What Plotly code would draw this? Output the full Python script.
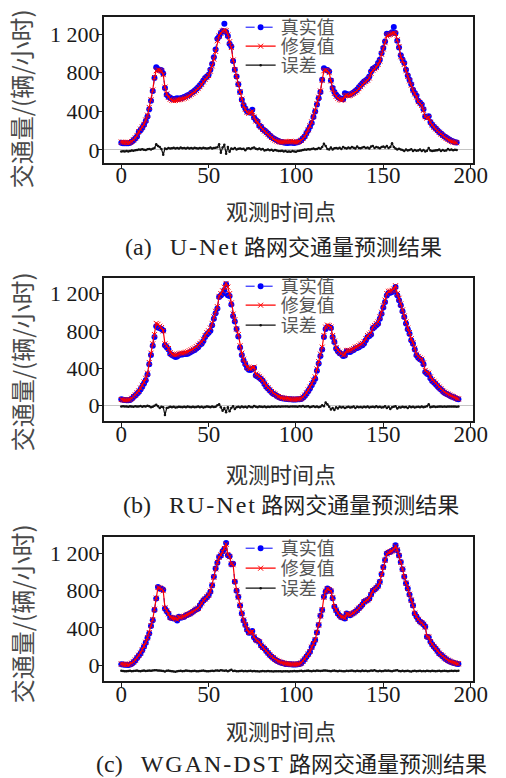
import plotly.graph_objects as go

# ---------------- data ----------------
true_a = [75, 70, 68, 68, 70, 75, 85, 100, 118, 140,
          185, 205, 230, 260, 300, 345, 420, 510, 610, 745,
          855, 835, 830, 825, 790, 640, 570, 550, 540, 530,
          525, 530, 535, 530, 535, 540, 548, 555, 565, 570,
          590, 600, 615, 630, 650, 670, 690, 720, 745, 760,
          778, 830, 890, 960, 1040, 1150, 1175, 1210, 1230, 1305,
          1220, 1180, 1100, 1070, 920, 830, 760, 680, 600, 520,
          465, 430, 397, 390, 385, 415, 335, 310, 295, 250,
          240, 215, 200, 185, 170, 150, 135, 121, 110, 100,
          92, 86, 82, 78, 75, 73, 74, 76, 74, 72,
          76, 80, 90, 100, 120, 140, 175, 205, 240, 280,
          340, 397, 470, 536, 600, 726, 845, 830, 828, 812,
          720, 640, 600, 570, 550, 536, 530, 525, 588, 580,
          570, 575, 585, 595, 610, 625, 650, 670, 690, 708,
          720, 733, 760, 812, 840, 850, 864, 900, 933, 1000,
          1055, 1123, 1203, 1200, 1205, 1217, 1272, 1210, 1130, 1060,
          980, 935, 899, 830, 770, 726, 680, 622, 590, 560,
          510, 490, 470, 420, 346, 340, 350, 290, 262, 240,
          222, 205, 185, 170, 155, 140, 128, 115, 105, 95,
          88, 80, 76]
rep_a = [82, 80, 78, 76, 74, 78, 88, 105, 125, 150,
         190, 215, 240, 265, 310, 360, 440, 520, 620, 750,
         820, 830, 825, 815, 780, 650, 580, 545, 525, 515,
         510, 512, 518, 520, 522, 528, 535, 540, 552, 560,
         575, 585, 600, 615, 635, 655, 678, 705, 730, 750,
         770, 815, 870, 940, 1020, 1130, 1180, 1210, 1230, 1240,
         1235, 1190, 1120, 1060, 930, 830, 760, 680, 600, 525,
         460, 420, 390, 380, 385, 400, 340, 300, 290, 255,
         235, 212, 195, 178, 160, 145, 128, 115, 102, 92,
         85, 82, 80, 82, 85, 86, 88, 90, 86, 82,
         80, 82, 88, 100, 118, 140, 172, 210, 250, 290,
         350, 410, 480, 545, 610, 720, 820, 825, 820, 800,
         715, 630, 585, 555, 535, 520, 515, 520, 560, 565,
         560, 565, 575, 585, 598, 612, 635, 655, 675, 695,
         708, 722, 745, 795, 825, 840, 855, 885, 920, 990,
         1045, 1110, 1180, 1190, 1195, 1205, 1210, 1205, 1140, 1070,
         965, 925, 885, 820, 760, 715, 670, 615, 580, 548,
         500, 480, 460, 410, 345, 330, 335, 285, 258, 235,
         218, 200, 182, 165, 150, 135, 120, 108, 96, 88,
         82, 78, 75]
err_a = [-15, -14, -16, -12, -15, -10, -5, -8, -3, 0,
         5, 2, 8, 3, 0, 6, 10, 5, 12, 20,
         60, 40, 30, 10, -50, 15, 10, 20, 15, 18,
         22, 16, 20, 15, 24, 18, 20, 14, 22, 16,
         20, 15, 22, 18, 14, 20, 16, 22, 18, 15,
         18, 25, 15, 20, 22, 28, 60, -30, 25, 55,
         -40, 30, -20, 15, 10, 20, 5, 12, 15, 10,
         12, -3, 15, 18, 10, 20, 25, 12, 8, 15,
         5, 10, -5, 0, 5, -3, 2, -8, 0, -5,
         -10, -12, -8, -15, -10, -18, -15, -20, -12, -15,
         -18, -12, -8, -5, 0, 5, 3, 8, 5, 10,
         15, 8, 10, 20, 12, 30, 65, 40, 10, 5,
         25, 5, 18, 20, 15, 22, 10, 30, 20, 15,
         25, 18, 30, 22, 15, 35, 20, 18, 25, 30,
         20, 25, 15, 35, 40, 20, 30, 25, 18, 30,
         35, 25, 40, 20, 30, 70, 30, 15, 5, 12,
         5, 0, -10, 5, -5, 0, 8, -10, 0, -8,
         -5, 5, -12, 0, -15, -8, 20, -5, -10, -8,
         -5, -3, 5, -10, 0, -8, -5, 10, 0, 5,
         -3, 2, 0]

true_b = [64, 60, 56, 55, 54, 58, 70, 88, 105, 125,
          143, 170, 200, 233, 270, 330, 440, 540, 640, 735,
          850, 835, 830, 820, 805, 645, 625, 600, 555, 540,
          530, 520, 525, 540, 547, 545, 550, 552, 555, 565,
          575, 585, 595, 610, 625, 650, 660, 690, 734, 760,
          780, 800, 860, 931, 990, 1039, 1164, 1180, 1200, 1240,
          1300, 1182, 1175, 1082, 960, 900, 820, 740, 620, 540,
          480, 440, 400, 383, 380, 390, 401, 320, 310, 295,
          280, 260, 230, 200, 180, 160, 140, 125, 115, 100,
          90, 80, 76, 72, 70, 68, 66, 64, 63, 62,
          63, 64, 65, 68, 80, 100, 125, 150, 179, 215,
          250, 286, 370, 448, 530, 600, 734, 820, 842, 842,
          830, 734, 680, 609, 580, 560, 550, 530, 535, 580,
          575, 573, 585, 595, 609, 615, 625, 640, 645, 665,
          700, 734, 745, 760, 824, 840, 860, 877, 930, 985,
          1050, 1110, 1180, 1207, 1210, 1218, 1230, 1272, 1182, 1130,
          1074, 1010, 949, 880, 816, 770, 700, 660, 600, 537,
          510, 495, 483, 440, 358, 340, 330, 290, 260, 245,
          225, 205, 186, 170, 150, 135, 125, 115, 105, 95,
          88, 78, 70, 64]
rep_b = [62, 58, 55, 56, 58, 62, 75, 95, 112, 135,
         155, 185, 215, 250, 290, 345, 460, 560, 660, 760,
         880, 870, 850, 835, 800, 660, 640, 610, 565, 550,
         545, 540, 545, 555, 560, 560, 565, 570, 575, 585,
         595, 605, 615, 630, 645, 665, 680, 710, 750, 780,
         800, 830, 880, 950, 1010, 1060, 1170, 1200, 1230, 1270,
         1310, 1270, 1200, 1100, 980, 920, 820, 760, 640, 560,
         495, 450, 410, 395, 395, 405, 410, 335, 325, 310,
         290, 268, 240, 210, 188, 168, 148, 132, 120, 105,
         94, 85, 80, 76, 72, 70, 68, 66, 65, 64,
         65, 66, 68, 72, 88, 110, 135, 165, 195, 232,
         270, 305, 390, 470, 550, 625, 750, 840, 862, 855,
         840, 750, 690, 620, 590, 570, 558, 540, 545, 590,
         590, 590, 600, 610, 625, 632, 642, 658, 665, 685,
         718, 750, 765, 780, 840, 858, 878, 895, 950, 1000,
         1070, 1130, 1200, 1225, 1228, 1235, 1250, 1285, 1200, 1150,
         1090, 1025, 960, 895, 830, 782, 715, 672, 612, 550,
         525, 508, 495, 455, 375, 355, 345, 305, 275, 258,
         238, 215, 196, 178, 158, 142, 130, 120, 110, 100,
         92, 82, 74, 68]
err_b = [-12, -10, -14, -12, -15, -10, -12, -15, -10, -14,
         -12, -8, -15, -10, -14, -5, -10, -20, -15, -5,
         5, -10, -30, -15, -20, -105, -30, -25, -15, -20,
         -15, -25, -20, -15, -18, -22, -15, -20, -12, -18,
         -20, -15, -22, -18, -12, -20, -15, -25, -18, -12,
         -15, -20, -12, -18, -15, 0, 10, -20, -60, -30,
         -75, -20, -65, -30, -10, -40, -20, -15, -25, -12,
         -20, -15, -25, -10, -18, -22, -8, -15, -20, -12,
         -15, -18, -12, -20, -15, -18, -12, -15, -14, -16,
         -12, -15, -14, -13, -12, -14, -15, -13, -12, -14,
         -12, -15, -10, -14, -8, -15, -12, -10, -20, -15,
         -10, -18, -12, -20, -15, 0, -10, 30, 10, -15,
         -45, -30, -50, -20, -35, -15, -25, -18, -30, -20,
         -15, -25, -20, -12, -28, -15, -22, -18, -25, -15,
         -20, -12, -25, -18, -15, -22, -10, -20, -15, -25,
         -20, -10, -30, -15, -40, -20, -15, -10, -35, -20,
         -25, -15, -20, -18, -30, -12, -20, -15, -25, -18,
         -15, -22, -12, -20, -15, -10, 10, -20, -15, -12,
         -18, -15, -12, -14, -16, -12, -15, -14, -13, -12,
         -14, -13, -15, -14]

true_c = [8, 5, 3, 2, 0, 5, 15, 30, 50, 75,
          100, 125, 160, 200, 240, 290, 340, 420, 483, 591,
          716, 841, 825, 820, 810, 609, 580, 555, 512, 505,
          500, 501, 480, 519, 510, 515, 520, 537, 540, 550,
          560, 573, 590, 600, 609, 640, 670, 698, 710, 730,
          752, 790, 859, 950, 1039, 1100, 1164, 1180, 1225, 1250,
          1314, 1182, 1170, 1085, 1090, 895, 800, 734, 640, 555,
          480, 430, 380, 347, 350, 365, 300, 269, 260, 250,
          210, 190, 179, 150, 130, 107, 90, 75, 60, 46,
          38, 30, 22, 18, 12, 10, 8, 8, 6, 5,
          6, 8, 10, 20, 40, 61, 90, 115, 143, 190,
          230, 269, 350, 430, 530, 591, 734, 790, 824, 810,
          798, 720, 627, 590, 555, 530, 515, 512, 500, 555,
          545, 537, 550, 560, 573, 590, 610, 627, 650, 680,
          690, 700, 716, 760, 800, 813, 830, 850, 895, 980,
          1056, 1130, 1200, 1210, 1217, 1230, 1243, 1289, 1235, 1180,
          1110, 1030, 949, 880, 824, 760, 698, 640, 555, 520,
          490, 465, 455, 440, 412, 304, 300, 250, 220, 197,
          175, 150, 125, 110, 95, 75, 61, 50, 40, 30,
          25, 20, 15, 11]
rep_c = [12, 8, 5, 6, 5, 10, 20, 35, 55, 80,
         105, 130, 165, 205, 245, 295, 350, 425, 490, 600,
         720, 835, 830, 815, 800, 615, 585, 550, 515, 508,
         505, 500, 490, 515, 512, 518, 525, 535, 545, 552,
         565, 575, 588, 602, 612, 638, 668, 695, 712, 735,
         755, 795, 860, 945, 1035, 1105, 1160, 1185, 1220, 1255,
         1300, 1190, 1165, 1090, 1080, 900, 805, 730, 645, 560,
         485, 435, 385, 350, 352, 360, 305, 275, 262, 248,
         215, 192, 178, 155, 132, 110, 92, 78, 62, 50,
         40, 32, 25, 20, 15, 12, 10, 10, 8, 8,
         8, 10, 12, 22, 42, 65, 92, 118, 145, 192,
         232, 272, 352, 432, 528, 595, 730, 795, 820, 812,
         795, 725, 630, 592, 558, 532, 518, 515, 505, 550,
         548, 540, 552, 562, 575, 592, 612, 630, 652, 678,
         692, 702, 718, 758, 798, 815, 832, 852, 892, 975,
         1050, 1128, 1195, 1212, 1220, 1228, 1245, 1280, 1240, 1178,
         1105, 1032, 952, 882, 826, 762, 700, 642, 558, 522,
         492, 468, 455, 438, 410, 308, 302, 252, 222, 200,
         178, 152, 128, 112, 96, 78, 64, 52, 42, 33,
         27, 22, 17, 14]
err_c = [-62, -65, -68, -66, -64, -63, -67, -65, -62, -60,
         -64, -66, -62, -60, -65, -63, -58, -62, -60, -56,
         -55, -60, -58, -62, -65, -70, -62, -60, -64, -66,
         -70, -72, -68, -65, -62, -66, -64, -60, -63, -65,
         -67, -64, -62, -66, -68, -64, -62, -60, -64, -66,
         -68, -65, -62, -64, -60, -58, -62, -55, -60, -63,
         -58, -66, -60, -52, -64, -62, -66, -68, -64, -62,
         -66, -64, -68, -65, -62, -66, -64, -66, -68, -70,
         -66, -64, -68, -66, -64, -66, -68, -70, -68, -66,
         -68, -66, -70, -68, -66, -68, -70, -68, -66, -64,
         -66, -68, -64, -62, -66, -64, -62, -60, -64, -66,
         -62, -64, -60, -62, -64, -62, -58, -60, -62, -64,
         -66, -62, -60, -64, -66, -62, -64, -66, -68, -62,
         -64, -62, -60, -64, -66, -62, -64, -66, -60, -64,
         -62, -66, -64, -60, -62, -56, -64, -68, -62, -66,
         -64, -60, -62, -58, -64, -66, -62, -60, -56, -64,
         -66, -62, -68, -64, -62, -66, -70, -64, -62, -66,
         -64, -62, -66, -64, -68, -62, -64, -66, -62, -64,
         -66, -64, -62, -66, -64, -62, -64, -66, -64, -62,
         -64, -62, -64, -63]

x_ticks = [0, 50, 100, 150, 200]
y_ticks = [0, 400, 800, 1200]
y_ticktext = ["0", "400", "800", "1 200"]
series_names = ["真实值", "修复值", "误差"]
cap_tags = ["(a)", "(b)", "(c)"]
cap_models = ["U-Net", "RU-Net", "WGAN-DST"]
cap_tail = "路网交通量预测结果"
y_title = "交通量/(辆/小时)"
x_title = "观测时间点"

# ---------------- layout geometry (pixels) ----------------
W, H = 506, 778
panels = [
    dict(tr=true_a, rp=rep_a, er=err_a, top=17, bot=162.5, yr=[-130, 1376],
         zl=True, rows=[27, 46, 65], ytc=99, xtc=210, capx=292, capy=245),
    dict(tr=true_b, rp=rep_b, er=err_b, top=278, bot=421, yr=[-169, 1368],
         zl=True, rows=[286, 305, 325], ytc=362, xtc=473, capx=300, capy=503),
    dict(tr=true_c, rp=rep_c, er=err_c, top=537, bot=681, yr=[-172, 1378],
         zl=False, rows=[548, 568, 588], ytc=614, xtc=730, capx=300, capy=762),
]

CJK = "Noto Sans CJK SC"
SERIF = "Liberation Serif"
AX = "#1a1a1a"

styles = [
    dict(mode="lines+markers", line=dict(color="#0000ff", width=1, dash="dash"),
         marker=dict(symbol="circle", size=6, color="#0000ff")),
    dict(mode="lines+markers", line=dict(color="#ff0000", width=1.2),
         marker=dict(symbol="x-thin-open", size=5, color="#ff0000",
                     line=dict(color="#ff0000", width=1))),
    dict(mode="lines+markers", line=dict(color="#111111", width=1.2),
         marker=dict(symbol="circle", size=2.5, color="#111111")),
]

fig = go.Figure()
annotations = []
layout = {}
for i, p in enumerate(panels):
    n = "" if i == 0 else str(i + 1)
    xa, ya = "x" + n, "y" + n
    for j, vals in enumerate([p["tr"], p["rp"], p["er"]]):
        k = i * 3 + j + 1
        leg = "legend" if k == 1 else "legend" + str(k)
        fig.add_trace(go.Scatter(
            x=list(range(len(vals))), y=vals, name=series_names[j],
            xaxis=xa, yaxis=ya, legend=leg, **styles[j]))
        layout[leg] = dict(
            x=248 / W, y=1 - (p["rows"][j] - 18) / H, xanchor="left", yanchor="top",
            bgcolor="rgba(0,0,0,0)", borderwidth=0, itemwidth=30,
            font=dict(family=CJK, size=18, color="#555555"))

    ydom = [1 - p["bot"] / H, 1 - p["top"] / H]
    layout["xaxis" + n] = dict(
        domain=[107 / W, 487 / W], range=[-10, 201.1], anchor=ya,
        tickmode="array", tickvals=x_ticks, ticks="outside", ticklen=4,
        tickcolor=AX, showline=True, mirror=True, linecolor=AX, linewidth=1.8,
        showgrid=False, zeroline=False, ticklabelstandoff=-13,
        tickfont=dict(family=SERIF, size=23, color=AX))
    layout["yaxis" + n] = dict(
        domain=ydom, range=p["yr"], anchor=xa,
        tickmode="array", tickvals=y_ticks, ticktext=y_ticktext,
        ticks="outside", ticklen=4, tickcolor=AX,
        showline=True, mirror=True, linecolor=AX, linewidth=1.8,
        showgrid=False, zeroline=p["zl"], zerolinecolor="#c4c4c4", zerolinewidth=1,
        ticklabelstandoff=-6,
        tickfont=dict(family=SERIF, size=22, color=AX))

    annotations.append(dict(
        text=y_title, x=22 / W, y=1 - p["ytc"] / H, xref="paper", yref="paper",
        xanchor="center", yanchor="middle", textangle=-90, showarrow=False,
        font=dict(family=CJK, size=24, color="#4a4a4a")))
    annotations.append(dict(
        text=x_title, x=290 / W, y=1 - p["xtc"] / H, xref="paper", yref="paper",
        xanchor="center", yanchor="middle", showarrow=False,
        font=dict(family=CJK, size=22, color="#333333")))
    cap = (cap_tags[i] + "\u00a0\u00a0\u00a0"
           + '<span style="letter-spacing:2px">' + cap_models[i] + "</span>"
           + '<span style="font-family:Noto Sans CJK SC;font-size:22px">'
           + "\u2009" + cap_tail + "</span>")
    annotations.append(dict(
        text=cap, x=p["capx"] / W, y=1 - p["capy"] / H, xref="paper",
        yref="paper", xanchor="center", yanchor="middle", showarrow=False,
        font=dict(family=SERIF + ", " + CJK, size=24, color="#222222")))

fig.update_layout(
    width=W, height=H, autosize=False,
    margin=dict(l=0, r=0, t=0, b=0),
    paper_bgcolor="white", plot_bgcolor="white",
    annotations=annotations, showlegend=True,
    **layout)

fig.write_html("out.html", config={"displayModeBar": False},
               post_script="document.body.style.margin='0px';document.body.style.padding='0px';")
